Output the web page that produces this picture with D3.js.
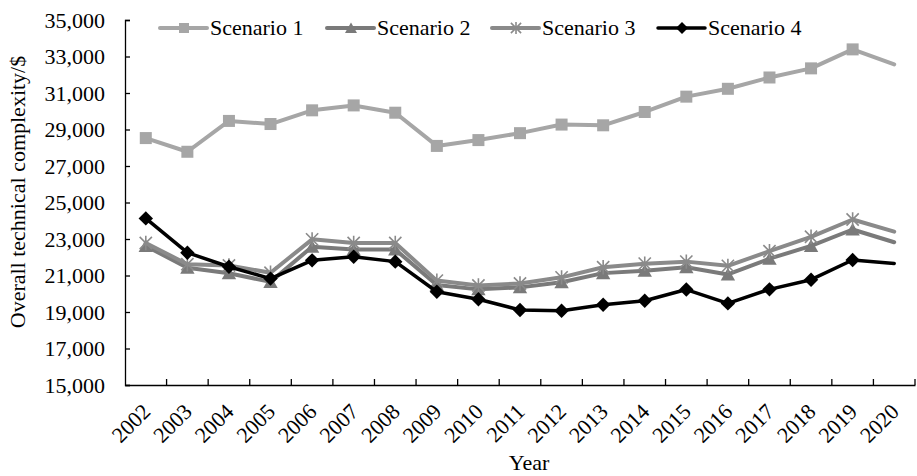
<!DOCTYPE html>
<html>
<head>
<meta charset="utf-8">
<script src="https://cdn.jsdelivr.net/npm/d3@7"></script>
<style>
  body { margin: 0; background: #fff; }
  svg text { font-family: "Liberation Serif", "Times New Roman", serif; fill: #000; }
</style>
</head>
<body>
<svg id="chart" width="917" height="476"></svg>
<script>
// data
var years = ["2002","2003","2004","2005","2006","2007","2008","2009","2010","2011",
             "2012","2013","2014","2015","2016","2017","2018","2019","2020"];
var scenario1 = [28530, 27780, 29470, 29300, 30050, 30320, 29920, 28100, 28420, 28800,
                 29270, 29230, 29960, 30800, 31230, 31850, 32350, 33390, 32570];
var scenario2 = [22620, 21420, 21120, 20650, 22580, 22420, 22420, 20480, 20240, 20350,
                 20630, 21130, 21260, 21450, 21060, 21920, 22620, 23520, 22820];
var scenario3 = [22780, 21620, 21550, 21150, 22980, 22780, 22780, 20720, 20450, 20560,
                 20900, 21450, 21650, 21760, 21530, 22330, 23120, 24070, 23400];
var scenario4 = [24130, 22250, 21480, 20830, 21830, 22030, 21760, 20110, 19700, 19110,
                 19070, 19400, 19620, 20230, 19470, 20240, 20770, 21850, 21660];
var yTicks = [15000, 17000, 19000, 21000, 23000, 25000, 27000, 29000, 31000, 33000, 35000];
var seriesNames = ["Scenario 1", "Scenario 2", "Scenario 3", "Scenario 4"];

var series = [
  {name: seriesNames[0], values: scenario1, color: "#a6a6a6", marker: "square", width: 4},
  {name: seriesNames[1], values: scenario2, color: "#7a7a7a", marker: "triangle", width: 4},
  {name: seriesNames[2], values: scenario3, color: "#8a8a8a", marker: "star", width: 4},
  {name: seriesNames[3], values: scenario4, color: "#000000", marker: "diamond", width: 3.5}
];

var svg = d3.select("#chart");
// plot box (window.top is taken, so no "top" here)
var plotLeft = 125, plotRight = 915, plotTop = 20, plotBottom = 385;
var fontSize = "22px";

var x = d3.scaleBand().domain(years).range([plotLeft, plotRight]);
var y = d3.scaleLinear().domain([15000, 35000]).range([plotBottom, plotTop]);

// axes
var yAxis = svg.append("g")
  .attr("transform", "translate(" + plotLeft + ",0)")
  .call(d3.axisRight(y).tickValues(yTicks).tickSize(5).tickFormat(d3.format(",")));
yAxis.select(".domain").attr("stroke", "#000").attr("stroke-width", 1.3);
yAxis.selectAll(".tick line").attr("stroke", "#000").attr("stroke-width", 1.3);
yAxis.selectAll(".tick text")
  .attr("x", -20)
  .attr("text-anchor", "end")
  .attr("font-size", fontSize);

var xAxis = svg.append("g")
  .attr("transform", "translate(0," + plotBottom + ")")
  .call(d3.axisTop(x).tickSize(0).tickFormat(""));
xAxis.select(".domain").attr("stroke", "#000").attr("stroke-width", 1.3);

// tick marks at band edges
var edges = years.map(function(d) { return x(d); }).concat([plotRight]);
svg.append("g").selectAll("line")
  .data(edges.slice(1))
  .enter().append("line")
  .attr("x1", function(d) { return d; })
  .attr("x2", function(d) { return d; })
  .attr("y1", plotBottom)
  .attr("y2", plotBottom - 6)
  .attr("stroke", "#000")
  .attr("stroke-width", 1.3);

svg.append("g").selectAll("text")
  .data(years)
  .enter().append("text")
  .attr("transform", function(d) {
    return "translate(" + (x(d) + x.bandwidth() / 2 + 6) + "," + (plotBottom + 28) + ") rotate(-45)";
  })
  .attr("text-anchor", "end")
  .attr("font-size", fontSize)
  .text(function(d) { return d; });

// axis titles
svg.append("text")
  .attr("x", 529)
  .attr("y", 470)
  .attr("text-anchor", "middle")
  .attr("font-size", fontSize)
  .text("Year");

svg.append("text")
  .attr("transform", "translate(25,192) rotate(-90)")
  .attr("text-anchor", "middle")
  .attr("font-size", fontSize)
  .text("Overall technical complexity/$");

// markers
function drawMarker(g, type, color, s) {
  if (type == "square") {
    g.append("rect").attr("x", -s / 2).attr("y", -s / 2).attr("width", s).attr("height", s)
      .attr("fill", color);
  } else if (type == "triangle") {
    g.append("path").attr("d", "M0," + (-s * 0.55) + "L" + (s * 0.6) + "," + (s * 0.5) + "L" + (-s * 0.6) + "," + (s * 0.5) + "Z")
      .attr("fill", color);
  } else if (type == "diamond") {
    g.append("path").attr("d", "M0," + (-s * 0.6) + "L" + (s * 0.6) + ",0L0," + (s * 0.6) + "L" + (-s * 0.6) + ",0Z")
      .attr("fill", color);
  } else if (type == "star") {
    var r = s * 0.6;
    g.append("path")
      .attr("d", "M0," + (-r) + "V" + r + "M" + (-r * 0.85) + "," + (-r * 0.85) + "L" + (r * 0.85) + "," + (r * 0.85) +
                 "M" + (r * 0.85) + "," + (-r * 0.85) + "L" + (-r * 0.85) + "," + (r * 0.85))
      .attr("stroke", color)
      .attr("stroke-width", 1.6)
      .attr("fill", "none");
  }
}

var line = d3.line()
  .x(function(d, i) { return x(years[i]) + x.bandwidth() / 2; })
  .y(function(d) { return y(d); });

series.forEach(function(s) {
  svg.append("path")
    .datum(s.values)
    .attr("d", line)
    .attr("fill", "none")
    .attr("stroke", s.color)
    .attr("stroke-width", s.width)
    .attr("stroke-linejoin", "round")
    .attr("stroke-linecap", "round");

  // no marker on the last year, as in the original
  svg.append("g").selectAll("g")
    .data(s.values.slice(0, s.values.length - 1))
    .enter().append("g")
    .attr("transform", function(d, i) {
      return "translate(" + (x(years[i]) + x.bandwidth() / 2) + "," + y(d) + ")";
    })
    .each(function() { drawMarker(d3.select(this), s.marker, s.color, 12); });
});

// legend
var legendX = [160, 327, 492, 658];
var legend = svg.append("g").selectAll("g")
  .data(series)
  .enter().append("g")
  .attr("transform", function(d, i) { return "translate(" + legendX[i] + ",28)"; });

legend.append("line")
  .attr("x1", 0).attr("x2", 47)
  .attr("stroke", function(d) { return d.color; })
  .attr("stroke-width", function(d) { return d.width; })
  .attr("stroke-linecap", "round");
legend.append("g")
  .attr("transform", "translate(24,0)")
  .each(function(d) { drawMarker(d3.select(this), d.marker, d.color, 10); });
legend.append("text")
  .attr("x", 50)
  .attr("y", 7)
  .attr("font-size", fontSize)
  .text(function(d) { return d.name; });
</script>
</body>
</html>
